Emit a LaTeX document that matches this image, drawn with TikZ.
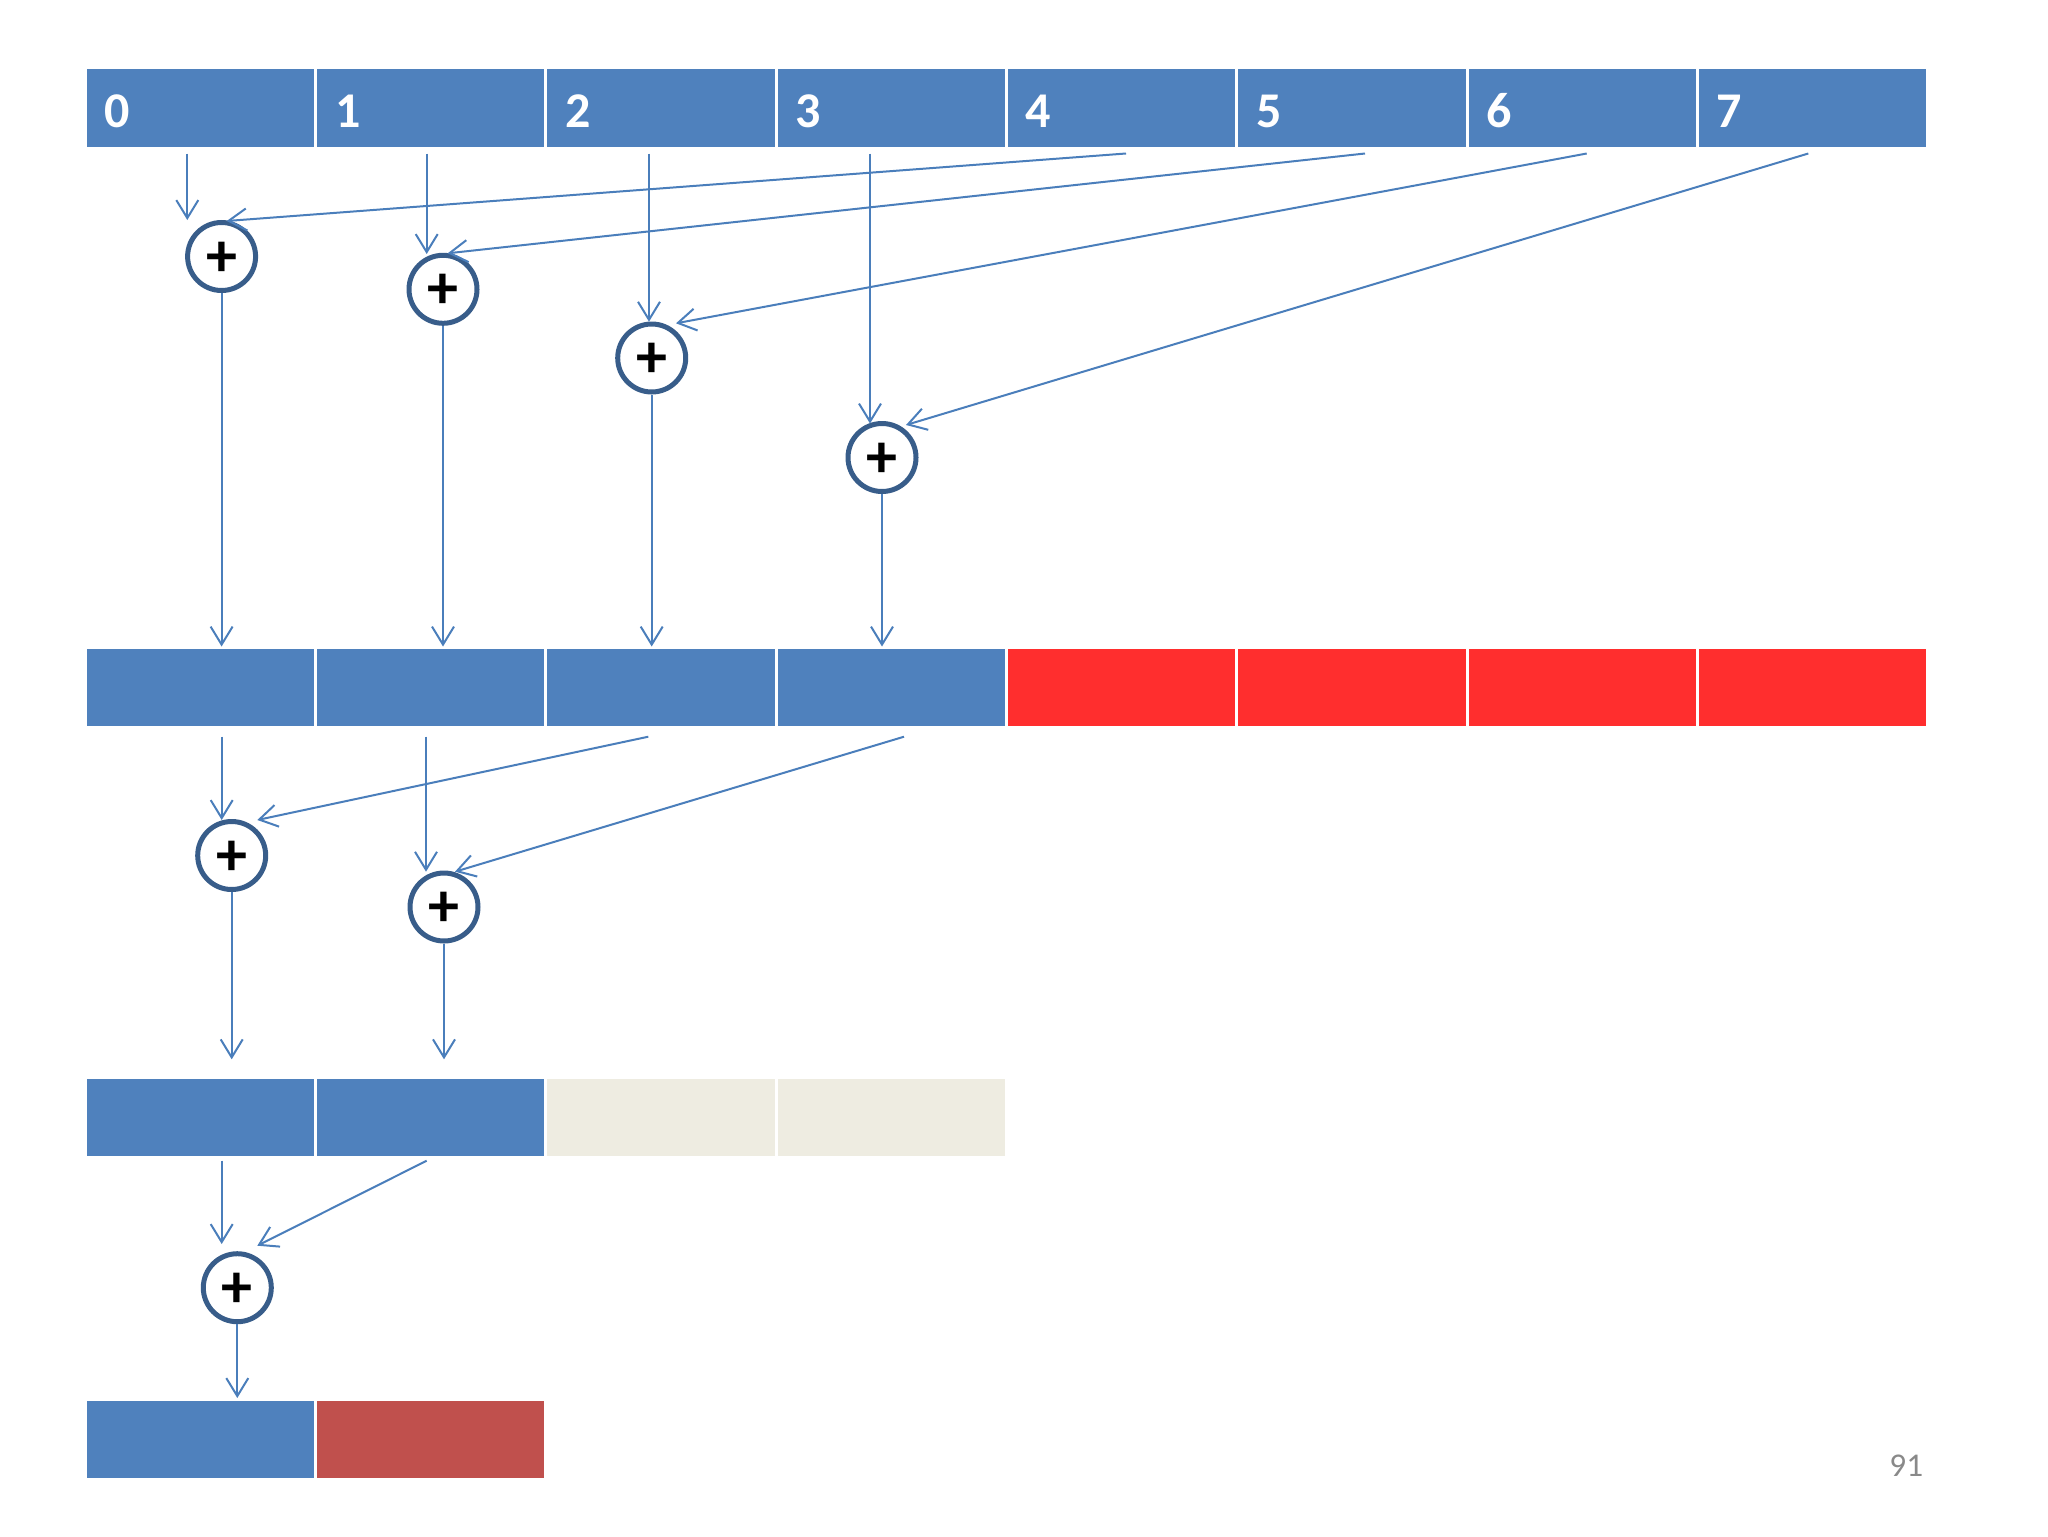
\documentclass[tikz,border=0pt]{standalone}
\usepackage{fontspec}
\setmainfont{Carlito}
\usetikzlibrary{arrows.meta}
\definecolor{cblue}{RGB}{79,129,189}
\definecolor{cred}{RGB}{255,46,46}
\definecolor{cgray}{RGB}{238,236,225}
\definecolor{cdred}{RGB}{192,80,77}
\definecolor{ring}{RGB}{56,93,138}
\definecolor{arr}{RGB}{74,126,187}
\definecolor{pgray}{RGB}{137,137,137}
\tikzset{
  cellbox/.style={rectangle, inner sep=0pt, outer sep=0pt, minimum width=113.65pt, minimum height=38.7pt, anchor=north west, draw=none},
  lab/.style={inner sep=0pt, outer sep=0pt, anchor=base west, text=white, font=\fontsize{25}{30}\selectfont\bfseries},
  addnode/.style={circle, draw=ring, line width=2.5pt, fill=white, inner sep=0pt, minimum size=34pt,
    label={[inner sep=0pt, yshift=-1.2pt, font=\fontsize{31}{34}\selectfont\bfseries]center:+}},
  flow/.style={draw=arr, line width=1pt, -{Straight Barb[length=9pt,width=11pt,line width=1pt]}},
}
\begin{document}
\begin{tikzpicture}[x=0.5pt,y=-0.5pt]
\useasboundingbox (0,0) rectangle (2048,1536);
% row 1
\foreach \i in {0,...,7} {
  \node[cellbox, fill=cblue] (a\i) at ({86.7+230.3*\i},69.3) {};
  \node[lab] (la\i) at ({86.7+230.3*\i+18},127) {\i};
}
% row 2
\foreach \i in {0,...,3} \node[cellbox, fill=cblue] (b\i) at ({86.7+230.3*\i},649) {};
\foreach \i in {4,...,7} \node[cellbox, fill=cred] (b\i) at ({86.7+230.3*\i},649) {};
% row 3
\foreach \i in {0,1} \node[cellbox, fill=cblue] (c\i) at ({86.7+230.3*\i},1079) {};
\foreach \i in {2,3} \node[cellbox, fill=cgray] (c\i) at ({86.7+230.3*\i},1079) {};
% row 4
\node[cellbox, fill=cblue] (d0) at (86.7,1401) {};
\node[cellbox, fill=cdred] (d1) at (317,1401) {};

% adders
\node[addnode] (p1) at (221.6,256.5) {};
\node[addnode] (p2) at (443,289.3) {};
\node[addnode] (p3) at (651.7,358) {};
\node[addnode] (p4) at (882,457.5) {};
\node[addnode] (p5) at (231.7,855.5) {};
\node[addnode] (p6) at (444,907) {};
\node[addnode] (p7) at (237.3,1287.7) {};

% level 1 coordinates
\coordinate (s0) at (187.3,153.5);  \coordinate (e0) at (187.3,220);
\coordinate (s4) at (1126,153.5);   \coordinate (e4) at (226.7,221);
\coordinate (s1) at (426.7,153.5);  \coordinate (e1) at (426.7,254);
\coordinate (s5) at (1365,153.5);   \coordinate (e5) at (447.7,253.3);
\coordinate (s2) at (649,153.5);    \coordinate (e2) at (649,321.7);
\coordinate (s6) at (1586.7,153.5); \coordinate (e6) at (676,323.3);
\coordinate (s3) at (870,153.5);    \coordinate (e3) at (870,423.5);
\coordinate (s7) at (1808.3,153.5); \coordinate (e7) at (906,425);
\foreach \i in {0,...,7} \draw[flow] (s\i) -- (e\i);

% adders to row 2
\coordinate (q1) at (221.6,646.5);
\coordinate (q2) at (443,646.5);
\coordinate (q3) at (651.7,646.5);
\coordinate (q4) at (882,646.5);
\foreach \i in {1,...,4} \draw[flow] (p\i.south) -- (q\i);

% level 2
\coordinate (t0) at (221.7,736.7); \coordinate (f0) at (221.7,820);
\coordinate (t2) at (648.3,736.7); \coordinate (f2) at (257.3,820);
\coordinate (t1) at (426,736.7);   \coordinate (f1) at (426,871.7);
\coordinate (t3) at (904,736.7);   \coordinate (f3) at (455,871.7);
\foreach \i in {0,...,3} \draw[flow] (t\i) -- (f\i);
\coordinate (r5) at (231.7,1059.3);
\coordinate (r6) at (444,1059.3);
\draw[flow] (p5.south) -- (r5);
\draw[flow] (p6.south) -- (r6);

% level 3
\coordinate (u0) at (221.7,1160.7); \coordinate (g0) at (221.7,1244);
\coordinate (u1) at (426.7,1160.7); \coordinate (g1) at (257.3,1245.7);
\draw[flow] (u0) -- (g0);
\draw[flow] (u1) -- (g1);
\coordinate (r7) at (237.3,1398);
\draw[flow] (p7.south) -- (r7);

% page number
\node[inner sep=0pt, anchor=base east, text=pgray, font=\fontsize{16.6}{20}\selectfont] (pn) at (1923.5,1476) {91};
\end{tikzpicture}
\end{document}
